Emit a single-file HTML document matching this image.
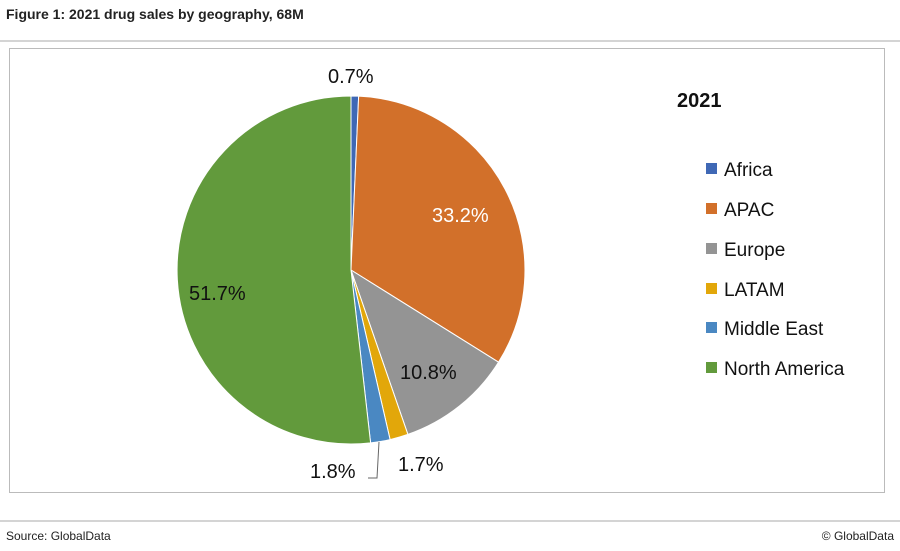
<!DOCTYPE html>
<html><head><meta charset="utf-8"><style>
body{margin:0;width:900px;height:546px;background:#fff;font-family:"Liberation Sans",sans-serif;overflow:hidden}
</style></head><body>
<svg width="900" height="546" xmlns="http://www.w3.org/2000/svg" font-family="Liberation Sans, sans-serif">
<text x="6" y="19" font-size="14" font-weight="bold" fill="#222">Figure 1: 2021 drug sales by geography, 68M</text>
<line x1="0" y1="41" x2="900" y2="41" stroke="#aaa" stroke-width="1"/>
<rect x="9.5" y="48.5" width="875" height="444" fill="#fff" stroke="#bbb" stroke-width="1"/>
<g stroke="#fff" stroke-width="1">
<path d="M351,270 L351,96 A174,174 0 0 1 358.65,96.17 Z" fill="#3F68B5"/>
<path d="M351,270 L358.65,96.17 A174,174 0 0 1 498.55,362.2 Z" fill="#D2702A"/>
<path d="M351,270 L498.55,362.2 A174,174 0 0 1 407.9,434.4 Z" fill="#949494"/>
<path d="M351,270 L407.9,434.4 A174,174 0 0 1 390.1,439.6 Z" fill="#E2A70A"/>
<path d="M351,270 L390.1,439.6 A174,174 0 0 1 370.6,442.9 Z" fill="#4A88C2"/>
<path d="M351,270 L370.6,442.9 A174,174 0 1 1 351,96 Z" fill="#629A3C"/>
</g>
<polyline points="379,442 377,478 368,478" fill="none" stroke="#666" stroke-width="1"/>
<g font-size="20" fill="#111">
<text x="328" y="83">0.7%</text>
<text x="432" y="222" fill="#fff">33.2%</text>
<text x="400" y="379">10.8%</text>
<text x="189" y="300">51.7%</text>
<text x="310" y="478">1.8%</text>
<text x="398" y="471">1.7%</text>
</g>
<text x="677" y="107" font-size="20" font-weight="bold" fill="#111">2021</text>
<g font-size="19" fill="#111">
<rect x="706" y="163" width="11" height="11" fill="#3F68B5"/><text x="724" y="176">Africa</text>
<rect x="706" y="203" width="11" height="11" fill="#D2702A"/><text x="724" y="216">APAC</text>
<rect x="706" y="243" width="11" height="11" fill="#949494"/><text x="724" y="256">Europe</text>
<rect x="706" y="283" width="11" height="11" fill="#E2A70A"/><text x="724" y="296">LATAM</text>
<rect x="706" y="322" width="11" height="11" fill="#4A88C2"/><text x="724" y="335">Middle East</text>
<rect x="706" y="362" width="11" height="11" fill="#629A3C"/><text x="724" y="375">North America</text>
</g>
<line x1="0" y1="521" x2="900" y2="521" stroke="#aaa" stroke-width="1"/>
<text x="6" y="540" font-size="12" fill="#222">Source: GlobalData</text>
<text x="894" y="540" font-size="12" fill="#222" text-anchor="end">© GlobalData</text>
</svg>
</body></html>
